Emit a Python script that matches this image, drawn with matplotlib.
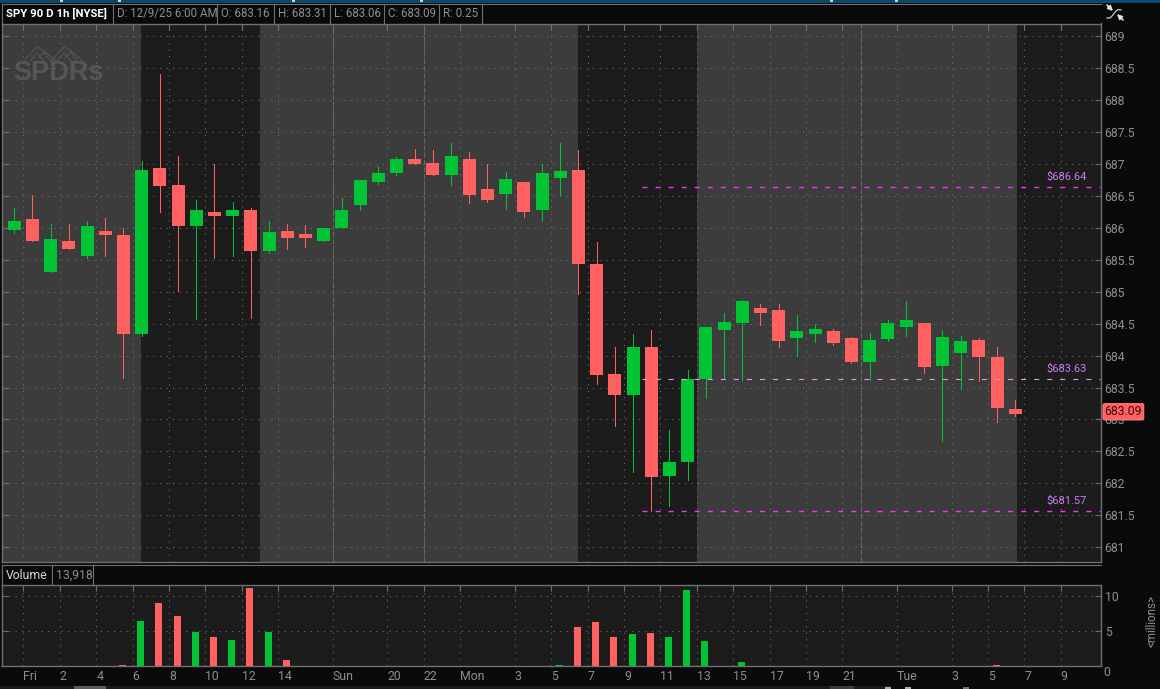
import matplotlib
matplotlib.use('Agg')
import matplotlib.pyplot as plt
from matplotlib.patches import Rectangle
import numpy as np

plt.rcParams['font.family'] = ['Roboto', 'DejaVu Sans']
plt.rcParams['font.size'] = 8.8

# Candles (one per hour, index 0..55)
opens = [685.97, 686.13, 685.30, 685.80, 685.56, 685.95, 685.89, 684.34, 686.93, 686.67,
         686.02, 686.25, 686.19, 686.27, 685.64, 685.95, 685.91, 685.80, 686.00, 686.36,
         686.72, 686.85, 687.08, 687.02, 686.83, 687.07, 686.60, 686.53, 686.72, 686.27,
         686.78, 686.91, 685.44, 683.71, 683.39, 684.14, 682.12, 682.34, 683.64, 684.40,
         684.51, 684.75, 684.72, 684.28, 684.34, 684.39, 684.28, 683.90, 684.26, 684.45,
         684.51, 683.84, 684.04, 684.25, 683.97, 683.16]
highs = [686.31, 686.52, 686.06, 686.06, 686.11, 686.16, 685.99, 687.04, 688.40, 687.13,
         686.44, 686.99, 686.41, 686.31, 686.11, 686.06, 686.05, 686.00, 686.46, 686.74,
         686.97, 687.11, 687.24, 687.22, 687.33, 687.19, 686.99, 686.88, 686.72, 686.99,
         687.33, 687.21, 685.78, 684.14, 684.33, 684.40, 682.84, 683.78, 684.45, 684.67,
         684.87, 684.81, 684.81, 684.64, 684.50, 684.42, 684.29, 684.36, 684.56, 684.86,
         684.51, 684.40, 684.31, 684.28, 684.14, 683.31]
lows = [685.92, 685.80, 685.30, 685.67, 685.53, 685.56, 683.65, 684.31, 686.25, 685.01,
        684.58, 685.52, 685.56, 684.59, 685.61, 685.67, 685.70, 685.80, 686.00, 686.27,
        686.69, 686.83, 687.00, 686.83, 686.67, 686.39, 686.41, 686.30, 686.17, 686.10,
        686.52, 684.97, 683.56, 682.90, 682.18, 681.57, 681.65, 682.05, 683.34, 683.64,
        683.62, 684.48, 684.14, 684.00, 684.22, 684.17, 683.89, 683.62, 684.23, 684.31,
        683.73, 682.67, 683.48, 683.60, 682.96, 683.06]
closes = [686.10, 685.80, 685.83, 685.67, 686.02, 685.88, 684.34, 686.91, 686.66, 686.02,
          686.27, 686.19, 686.27, 685.64, 685.94, 685.84, 685.84, 685.99, 686.27, 686.74,
          686.86, 687.07, 687.00, 686.83, 687.13, 686.52, 686.44, 686.77, 686.25, 686.85,
          686.89, 685.44, 683.70, 683.39, 684.14, 682.10, 682.34, 683.64, 684.44, 684.53,
          684.86, 684.67, 684.23, 684.39, 684.42, 684.20, 683.90, 684.25, 684.51, 684.55,
          683.82, 684.29, 684.23, 683.98, 683.18, 683.09]

# Volume in millions, same index
volumes = [0, 0, 0, 0, 0, 0, 0.15, 6.4, 9.0, 7.14,
           4.86, 4.14, 3.71, 11.14, 4.86, 0.86, 0, 0, 0, 0,
           0, 0, 0, 0, 0, 0, 0, 0, 0, 0,
           0.14, 5.57, 6.29, 4.14, 4.57, 4.71, 4.14, 10.86, 3.57, 0,
           0.57, 0, 0, 0, 0, 0, 0, 0, 0, 0,
           0, 0, 0, 0, 0.14, 0.01]

# Time axis
time_pos = [0.5, 2.5, 4.5, 6.5, 8.5, 10.5, 12.5, 14.5, 17.5, 20.5, 22.5, 24.5, 27.5, 29.5,
            31.5, 33.5, 35.5, 37.5, 39.5, 41.5, 43.5, 45.5, 48.5, 51.5, 53.5, 55.5, 57.5]
time_labels = ['Fri', '2', '4', '6', '8', '10', '12', '14', 'Sun', '20', '22', 'Mon', '3', '5',
               '7', '9', '11', '13', '15', '17', '19', '21', 'Tue', '3', '5', '7', '9']
day_breaks = [17.5, 22.5, 46.5]
light_sessions = [(-0.68, 6.97), (13.5, 31.0), (37.5, 55.08)]

# Price levels drawn from the low of the move
levels = [686.64, 683.63, 681.57]
level_colors = ['#ff30ff', '#f090f0', '#ff30ff']
level_widths = [1.0, 0.8, 1.0]
level_start = 34.5

price_ticks = [681 + 0.5 * k for k in range(17)]
vol_ticks = [5, 10]

GREEN = '#00c434'
RED = '#ff6060'
BG = '#0a0a0a'
DARK = '#1c1c1c'
LIGHT = '#3c3c3c'
LINE = '#707070'
GRID = '#747474'
TXT = '#8f8f8f'

W, H = 1160, 689
fig = plt.figure(figsize=(W / 100, H / 100), dpi=100, facecolor=BG)


def px_axes(x0, y0, x1, y1):
    return fig.add_axes([x0 / W, 1 - y1 / H, (x1 - x0) / W, (y1 - y0) / H])


idx = np.arange(len(opens))
o, h, l, c = map(np.array, (opens, highs, lows, closes))
up = c >= o
colors = np.where(up, GREEN, RED)
xlim = ((2 - 14.3) / 18.2, (1100.5 - 14.3) / 18.2)

# ---------------- price panel ---------------- #
ax = px_axes(2, 23.5, 1100.5, 562)
ax.set_facecolor(DARK)
ax.set_xlim(xlim)
ax.set_ylim(680.77, 689.196)
for a, b in light_sessions:
    ax.axvspan(a, b, color=LIGHT, lw=0, zorder=0)
for d in day_breaks:
    ax.axvline(d, color='#666666', lw=0.8, ls=(0, (5, 1.5)), zorder=1)

ax.vlines(idx, l, h, colors=colors, lw=0.5, zorder=3, antialiased=False)
ax.bar(idx, np.abs(c - o), bottom=np.minimum(o, c), width=0.714, color=colors, lw=0, zorder=4)

for lev, col, lw in zip(levels, level_colors, level_widths):
    ax.plot([level_start, xlim[1]], [lev, lev], color=col, lw=lw, dashes=(3.6 / lw, 5.8 / lw), zorder=5, snap=True)
    ax.text(56.7, lev + 0.155, f'${lev:.2f}', color='#cc7cf4', va='center', ha='left', fontsize=8, zorder=6)

ax.set_xticks(time_pos)
ax.set_yticks(price_ticks)
ax.set_yticklabels([f'{p:g}' for p in price_ticks], color=TXT)
ax.tick_params(axis='y', direction='in', left=True, right=True, labelleft=False, labelright=True,
               length=4, width=0.8, color=LINE, pad=3)
ax.tick_params(axis='x', direction='in', top=True, bottom=False, labelbottom=False,
               length=4, width=0.8, color=LINE)
ax.set_axisbelow(True)
ax.grid(True, color=GRID, lw=0.75, ls=(0, (1, 5.3)))
for s in ax.spines.values():
    s.set_color(LINE)
    s.set_linewidth(1)

# last price tag
ax.text(1.00375, closes[-1] + 0.03, f'{closes[-1]:.2f}', transform=ax.get_yaxis_transform(),
        color='#3c0808', ha='left', va='center', fontsize=8.8, zorder=10, clip_on=False,
        bbox=dict(boxstyle='round,pad=0.14', fc=RED, ec='#ff8a8a', lw=0.6))

# ---------------- volume panel ---------------- #
vax = px_axes(2, 585, 1100.5, 666)
vax.set_facecolor(DARK)
vax.set_xlim(xlim)
vax.set_ylim(0, 81 / 7)
vax.bar(idx - 0.06, volumes, width=0.385, color=colors, lw=0, zorder=3)
vax.set_xticks(time_pos)
vax.set_xticklabels(time_labels, color=TXT, ha='left')
vax.set_yticks(vol_ticks)
vax.set_yticklabels([str(v) for v in vol_ticks], color=TXT)
vax.tick_params(axis='y', direction='in', left=True, right=True, labelleft=False, labelright=True,
                length=4, width=0.8, color=LINE, pad=3)
vax.tick_params(axis='x', direction='in', top=True, bottom=False, length=4, width=0.8, color=LINE, pad=3)
vax.set_axisbelow(True)
vax.grid(True, color=GRID, lw=0.75, ls=(0, (1, 5.3)))
for s in vax.spines.values():
    s.set_color(LINE)
    s.set_linewidth(1)

# ---------------- window chrome, in pixels ---------------- #
ch = fig.add_axes([0, 0, 1, 1], zorder=20)
ch.set_xlim(0, W)
ch.set_ylim(H, 0)
ch.axis('off')
ch.patch.set_alpha(0)

ch.add_patch(Rectangle((0, 0), W, 3, fc='#0b4a6e', lw=0))
for xt in [60, 118, 292, 420, 830, 895]:
    ch.add_patch(Rectangle((xt, 0), 3, 2, fc='#d0d0d0', lw=0))

# header cells
ch.plot([2, 1100.5], [3.5, 3.5], color=LINE, lw=0.8)
for xs in [2, 113, 217, 274, 330, 384, 439, 482]:
    ch.plot([xs, xs], [3.5, 23.5], color=LINE, lw=0.8)
ch.text(6, 13.5, 'SPY 90 D 1h [NYSE]', color='white', fontweight='bold', va='center', fontsize=8.2)
header_cells = [(117, 'D: 12/9/25 6:00 AM'), (221, 'O: 683.16'), (278, 'H: 683.31'),
                (334, 'L: 683.06'), (388, 'C: 683.09'), (443, 'R: 0.25')]
for xs, s in header_cells:
    ch.text(xs, 13.5, s, color=TXT, va='center', fontsize=8.3)

# volume header
ch.plot([2, 1100.5], [565, 565], color=LINE, lw=0.8)
for xs in [2, 52, 93]:
    ch.plot([xs, xs], [565, 585], color=LINE, lw=0.8)
ch.text(6, 575.5, 'Volume', color='#d8d8d8', va='center')
ch.text(56, 575.5, '13,918', color=TXT, va='center')
t0 = ch.text(1103, 672, '0', color=TXT, va='center')
t0.set_clip_path(Rectangle((1100, 660), 30, 7, transform=ch.transData))
ch.text(1152, 621, '<millions>', color=TXT, rotation=90, va='center', ha='center', fontsize=8.4)

# SPDRs watermark
ch.text(13, 73, 'SPDRs', color='#565656', fontweight='bold', va='center', family='Liberation Sans', fontsize=19.5)
for dx in (0, 27):
    ch.plot(np.array([24, 31, 37, 44, 50, 56]) + dx, [61, 53, 47, 51, 56, 61], color='#565656', lw=0.8)
    ch.plot(np.array([30, 37, 44]) + dx, [61, 53, 61], color='#565656', lw=0.8)
    ch.plot(np.array([38, 44, 50]) + dx, [58, 52, 61], color='#565656', lw=0.8)

# swap icon
ch.plot([1107, 1110, 1113, 1115, 1118, 1121], [18, 18, 15, 12, 9.5, 10], color='#c8c8c8', lw=0.9)
ch.annotate('', xy=(1113, 11), xytext=(1107, 5), arrowprops=dict(arrowstyle='-|>', color='#e0e0e0', lw=1.2, mutation_scale=7, shrinkA=0, shrinkB=0))
ch.annotate('', xy=(1117, 14), xytext=(1123, 20), arrowprops=dict(arrowstyle='-|>', color='#e0e0e0', lw=1.2, mutation_scale=7, shrinkA=0, shrinkB=0))

# bottom scrollbar bits
ch.add_patch(Rectangle((0, 686), 890, 3, fc='#1a1a1a', lw=0))
ch.add_patch(Rectangle((74, 686), 32, 3, fc='#5a5a5a', lw=0))
ch.add_patch(Rectangle((830, 686), 24, 3, fc='#3c3c3c', lw=0))
for xs in [888, 908]:
    ch.add_patch(Rectangle((xs - 3, 687), 6, 2, fc='#b0b0b0', lw=0))
ch.add_patch(Rectangle((963, 687), 6, 2, fc='#707070', lw=0))

fig.savefig('out.png', dpi=100, facecolor=BG)
